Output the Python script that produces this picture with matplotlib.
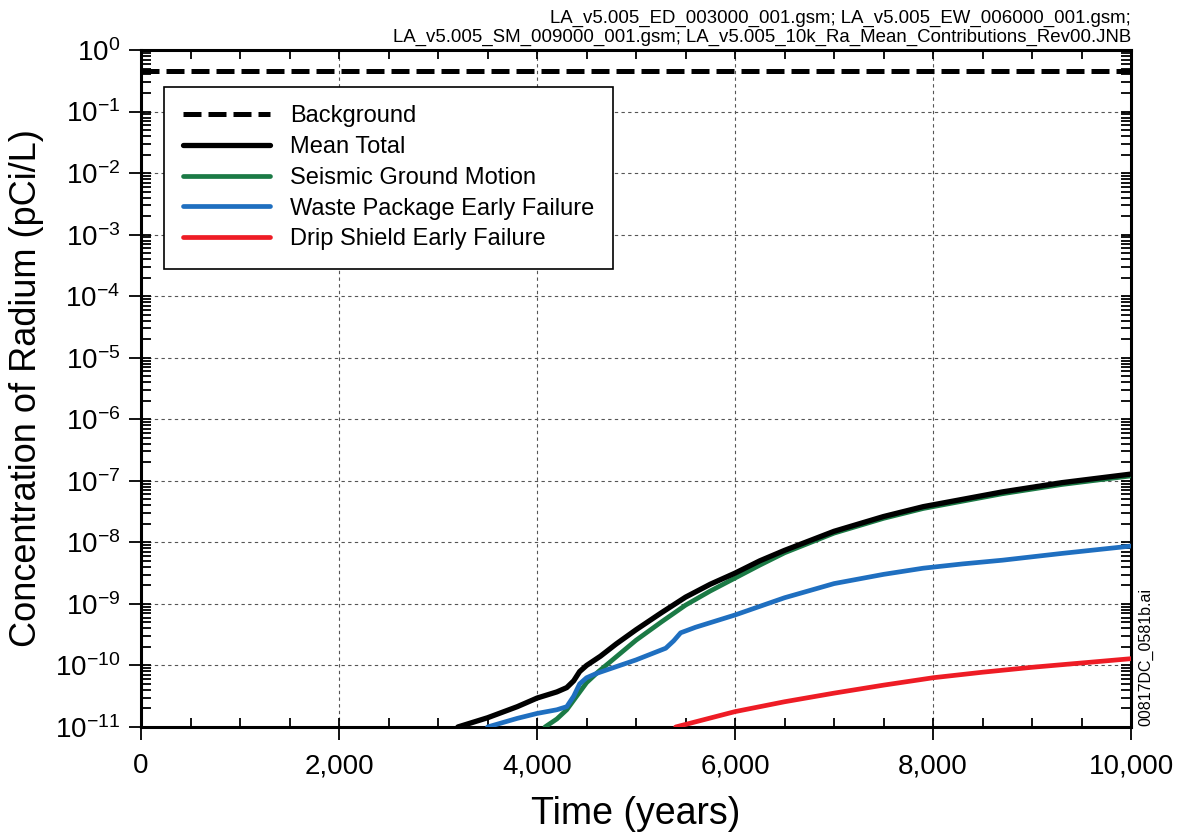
import matplotlib
matplotlib.use("Agg")
import matplotlib.pyplot as plt
import matplotlib.ticker as mticker
import numpy as np

plt.rcParams['font.family'] = ['Liberation Sans', 'DejaVu Sans']

# values (years, log10 of pCi/L)
background = 0.45

total_t = [3200, 3500, 3800, 4000, 4200, 4300, 4370, 4430, 4500, 4640, 4800, 5000, 5250, 5500, 5750,
           6000, 6250, 6500, 7000, 7500, 7900, 8300, 8700, 9300, 10000]
total_log = [-11.0, -10.85, -10.67, -10.53, -10.43, -10.36, -10.25, -10.1, -10.0, -9.85, -9.65, -9.42,
             -9.15, -8.89, -8.68, -8.50, -8.30, -8.13, -7.82, -7.58, -7.42, -7.30, -7.18, -7.03, -6.89]

seismic_t = [4080, 4200, 4300, 4400, 4500, 4620, 4740, 5000, 5250, 5500, 5750, 6000, 6250, 6500,
             7000, 7500, 7900, 8300, 8700, 9300, 10000]
seismic_log = [-11.0, -10.87, -10.72, -10.50, -10.28, -10.10, -9.94, -9.59, -9.30, -9.02, -8.79,
               -8.58, -8.37, -8.17, -7.85, -7.61, -7.45, -7.33, -7.21, -7.06, -6.92]

wpef_t = [3500, 3800, 4000, 4200, 4300, 4370, 4430, 4500, 4600, 5000, 5300, 5380, 5450, 5600,
          6000, 6500, 7000, 7500, 7900, 8300, 8700, 9300, 10000]
wpef_log = [-11.0, -10.86, -10.78, -10.72, -10.67, -10.50, -10.30, -10.20, -10.13, -9.91, -9.72,
            -9.60, -9.47, -9.38, -9.18, -8.90, -8.67, -8.52, -8.42, -8.35, -8.29, -8.18, -8.06]

dsef_t = [5400, 6000, 6500, 7000, 7500, 8000, 8500, 9000, 9500, 10000]
dsef_log = [-11.0, -10.75, -10.59, -10.45, -10.32, -10.2, -10.11, -10.03, -9.96, -9.89]

labels = ['Background', 'Mean Total', 'Seismic Ground Motion',
          'Waste Package Early Failure', 'Drip Shield Early Failure']
colors = ['black', 'black', '#1b7a45', '#1f6fc0', '#ee1c25']

fig = plt.figure(figsize=(11.78, 8.36), dpi=100)
ax = fig.add_axes([0.1197, 0.1304, 0.8405, 0.8098])

ax.axhline(background, color=colors[0], lw=3.6, ls=(0, (3.6, 1.4)), label=labels[0])
ax.plot(total_t, 10 ** np.array(total_log), color=colors[1], lw=3.8, label=labels[1],
        zorder=4, solid_capstyle='round')
ax.plot(seismic_t, 10 ** np.array(seismic_log), color=colors[2], lw=3.4, label=labels[2],
        zorder=3, solid_capstyle='round')
ax.plot(wpef_t, 10 ** np.array(wpef_log), color=colors[3], lw=3.4, label=labels[3],
        zorder=3, solid_capstyle='round')
ax.plot(dsef_t, 10 ** np.array(dsef_log), color=colors[4], lw=3.4, label=labels[4],
        zorder=3, solid_capstyle='round')

ax.set_yscale('log')
ax.set_xlim(0, 10000)
ax.set_ylim(1e-11, 1)
ax.yaxis.set_major_locator(mticker.LogLocator(base=10, numticks=20))
ax.yaxis.set_minor_locator(mticker.LogLocator(base=10, subs=np.arange(1, 10), numticks=20))
ax.yaxis.set_minor_formatter(mticker.NullFormatter())
ax.xaxis.set_major_locator(mticker.MultipleLocator(2000))
ax.xaxis.set_minor_locator(mticker.MultipleLocator(500))
ax.xaxis.set_major_formatter(mticker.FuncFormatter(lambda v, p: f"{int(v):,}"))
ax.xaxis.remove_overlapping_locs = False
ax.yaxis.remove_overlapping_locs = False

# major ticks point out on bottom/left, minor ticks point in on all sides
ax.tick_params(which='major', direction='out', length=9, width=1.3, labelsize=20,
               top=False, right=False)
ax.tick_params(axis='x', which='major', pad=10)
ax.tick_params(axis='y', which='major', pad=6)
ax.tick_params(which='minor', direction='in', length=7, width=1.3, top=True, right=True)
ax.tick_params(axis='x', which='minor', length=6.5)
for s in ax.spines.values():
    s.set_linewidth(2.2)

ax.grid(True, which='major', ls=(0, (3, 3)), color='#555555', lw=0.8)

ax.set_xlabel('Time (years)', fontsize=27, labelpad=12)
ax.set_ylabel('Concentration of Radium (pCi/L)', fontsize=26, labelpad=8)

leg = ax.legend(loc='upper left', bbox_to_anchor=(0.023, 0.946), fontsize=17,
                fancybox=False, edgecolor='black', framealpha=1, handlelength=3.7,
                borderpad=0.8, labelspacing=0.37, handletextpad=0.85, borderaxespad=0)
leg.get_frame().set_linewidth(1.2)

fig.text(0.960, 0.978, 'LA_v5.005_ED_003000_001.gsm; LA_v5.005_EW_006000_001.gsm;',
         ha='right', va='center', fontsize=13.4)
fig.text(0.960, 0.955, 'LA_v5.005_SM_009000_001.gsm; LA_v5.005_10k_Ra_Mean_Contributions_Rev00.JNB',
         ha='right', va='center', fontsize=13.4)
fig.text(0.973, 0.131, '00817DC_0581b.ai', rotation=90, ha='center', va='bottom', fontsize=11.5)

fig.savefig('out.png', dpi=100)
